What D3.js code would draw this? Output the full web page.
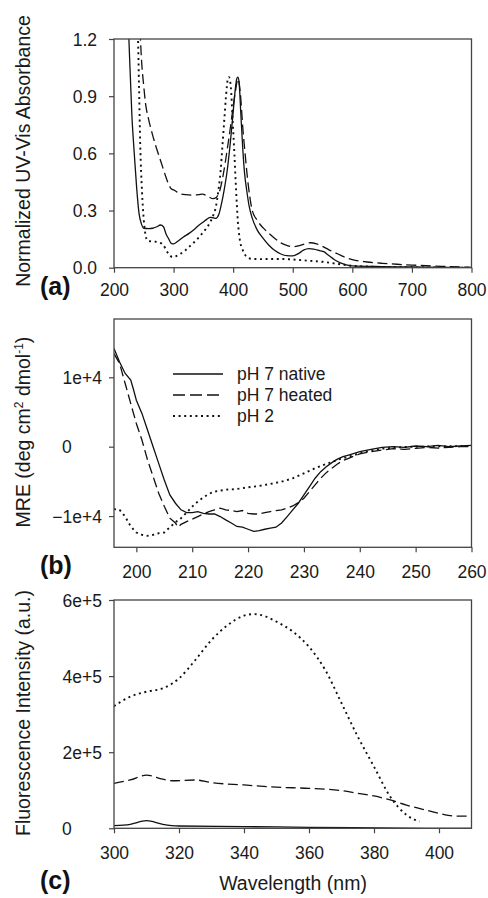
<!DOCTYPE html>
<html>
<head>
<meta charset="utf-8">
<script src="https://cdn.jsdelivr.net/npm/d3@7"></script>
<style>
  body { margin: 0; background: #fff; }
  svg { display: block; font-family: "Liberation Sans", Arial, sans-serif; }
  .tick text { fill: #1a1a1a; }
</style>
</head>
<body>
<svg id="fig" width="488" height="898"></svg>
<script>
// (a) UV-Vis absorbance, [wavelength nm, normalized absorbance]
const uvNative = [[220,1.6],[225,1.2],[230,0.8],[234,0.6],[238,0.42],[242,0.285],[246,0.23],[250,0.207],[258,0.205],[265,0.207],[272,0.215],[278,0.224],[283,0.215],[287,0.18],[292,0.15],[296,0.128],[300,0.125],[306,0.136],[316,0.16],[326,0.18],[336,0.205],[343,0.224],[350,0.24],[356,0.255],[362,0.264],[367,0.262],[371,0.259],[376,0.28],[380,0.33],[385,0.41],[390,0.51],[395,0.65],[399,0.78],[403,0.92],[406,0.99],[408,1.0],[410,0.97],[413,0.8],[416,0.63],[419,0.5],[423,0.4],[427,0.32],[432,0.26],[440,0.2],[450,0.155],[460,0.118],[470,0.09],[480,0.072],[490,0.063],[500,0.062],[510,0.075],[518,0.092],[527,0.1],[535,0.098],[545,0.09],[552,0.084],[560,0.065],[570,0.042],[580,0.025],[590,0.015],[600,0.01],[650,0.006],[700,0.004],[750,0.002],[800,0.0]]
const uvHeated = [[238,1.7],[243,1.3],[246,1.1],[250,0.95],[253,0.86],[258,0.78],[264,0.705],[270,0.64],[276,0.582],[282,0.525],[287,0.477],[292,0.435],[296,0.414],[302,0.405],[309,0.39],[320,0.383],[332,0.381],[342,0.383],[349,0.386],[355,0.378],[360,0.37],[366,0.362],[372,0.37],[378,0.41],[384,0.5],[390,0.62],[396,0.75],[400,0.845],[404,0.93],[408,0.99],[410,0.97],[413,0.88],[416,0.74],[420,0.6],[424,0.47],[428,0.37],[432,0.3],[440,0.25],[450,0.21],[460,0.18],[470,0.153],[480,0.13],[490,0.117],[500,0.11],[510,0.115],[520,0.124],[530,0.131],[540,0.125],[550,0.112],[560,0.095],[570,0.08],[580,0.066],[590,0.052],[600,0.042],[625,0.03],[650,0.023],[675,0.018],[700,0.014],[750,0.007],[800,0.002]]
const uvPh2 = [[236,1.6],[240,1.25],[242,0.95],[244,0.65],[247,0.4],[250,0.25],[253,0.17],[256,0.144],[262,0.138],[270,0.136],[278,0.13],[283,0.118],[288,0.09],[293,0.068],[298,0.056],[304,0.06],[312,0.074],[320,0.092],[326,0.109],[335,0.135],[343,0.161],[352,0.195],[360,0.231],[366,0.27],[371,0.32],[375,0.4],[379,0.51],[382,0.64],[385,0.77],[388,0.9],[391,0.99],[393,1.0],[396,0.95],[399,0.78],[402,0.6],[405,0.4],[408,0.24],[411,0.15],[416,0.093],[422,0.06],[430,0.047],[445,0.045],[460,0.046],[480,0.046],[500,0.043],[525,0.037],[550,0.031],[575,0.02],[600,0.01],[625,0.006],[650,0.004],[700,0.002],[800,0.0]]
const uvXTicks = [200, 300, 400, 500, 600, 700, 800]
const uvYTicks = [0, 0.3, 0.6, 0.9, 1.2]

// (b) CD spectra, [wavelength nm, MRE]
const cdNative = [[196,14150],[197,12200],[198,10550],[199,9600],[199.5,8200],[200,6700],[201,4800],[202,2400],[203,0],[204,-2400],[205,-4800],[206,-6950],[207,-8150],[208,-9100],[209,-9500],[210,-9500],[211,-9350],[212,-9600],[213,-9700],[214,-9700],[215,-10070],[216,-10550],[217,-11000],[218,-11500],[219,-11600],[220,-11900],[221,-12200],[222,-12100],[223,-11900],[224,-11750],[225,-11600],[226,-11000],[227,-10070],[228,-9100],[229,-8150],[230,-6950],[231,-5750],[232,-4550],[233,-3600],[234,-2900],[235,-2300],[236,-1800],[237,-1440],[238,-1200],[239,-960],[240,-720],[242,-400],[244,-100],[246,0],[248,-100],[250,100],[252,0],[254,200],[256,0],[258,100],[260,200]]
const cdHeated = [[196,13400],[197,12000],[198,9100],[199,6200],[200,3350],[201,960],[202,-1900],[203,-4300],[204,-6700],[205,-8600],[206,-10300],[207,-11000],[207.5,-11600],[208,-11200],[209,-10800],[210,-10450],[211,-10070],[212,-9700],[213,-9350],[214,-9100],[215,-8870],[216,-9100],[217,-9200],[218,-9350],[219,-9200],[220,-9600],[221,-9700],[222,-9700],[223,-9500],[224,-9350],[225,-9200],[226,-9100],[227,-8870],[228,-8540],[229,-8060],[230,-7430],[231,-6470],[232,-5500],[233,-4550],[234,-3740],[235,-3100],[236,-2500],[237,-2000],[238,-1680],[239,-1340],[240,-1050],[242,-720],[244,-480],[246,-290],[248,-380],[250,-240],[252,-100],[254,-200],[256,-100],[258,0],[260,0]]
const cdPh2 = [[196,-9000],[197,-9100],[198,-10070],[199,-11500],[200,-12370],[201,-12700],[202,-12850],[203,-12700],[204,-12470],[205,-12370],[206,-11600],[207,-10900],[208,-10300],[209,-9500],[210,-8630],[211,-7900],[212,-7300],[213,-6800],[214,-6470],[215,-6330],[216,-6200],[218,-6100],[220,-5850],[222,-5660],[224,-5370],[226,-5040],[228,-4560],[230,-3840],[232,-3100],[234,-2500],[236,-1900],[238,-1440],[240,-960],[242,-580],[244,-290],[246,-140],[248,-50],[250,0],[255,50],[260,100]]
const cdXTicks = [200, 210, 220, 230, 240, 250, 260]
const cdYTicks = [-10000, 0, 10000]
const legendLabels = ['pH 7 native', 'pH 7 heated', 'pH 2']

// (c) fluorescence, [wavelength nm, intensity]
const flNative = [[300,7000],[305,10500],[310,20000],[315,10500],[320,6000],[340,4400],[360,2600],[380,1000],[400,0],[410,0]]
const flHeated = [[300,118000],[305,127000],[310,140000],[315,129000],[318,125000],[325,127000],[330,120000],[340,114000],[350,108000],[360,105000],[370,99000],[375,92000],[380,85000],[385,74500],[390,61000],[395,50000],[400,39000],[405,32000],[410,32000]]
const flPh2 = [[300,321000],[305,346000],[310,359000],[315,368000],[318,381000],[320,394000],[325,442000],[330,495000],[335,534000],[340,559000],[343,563000],[345,561000],[350,543000],[355,517000],[360,477000],[365,416000],[370,329000],[375,241000],[380,162000],[385,83000],[390,35000],[394,17500]]
const flXTicks = [300, 320, 340, 360, 380, 400]
const flYTicks = [0, 200000, 400000, 600000]

const svg = d3.select('#fig')
const left = 114, right = 471.5
const styles = {
    solid: { dash: null, width: 1.3 },
    dashed: { dash: '10,4.5', width: 1.3 },
    dotted: { dash: '2,3.6', width: 1.9 }
}

function sciFormat(d) {
    return d === 0 ? '0' : d3.format('.0e')(d)
}

function drawPanel(opt) {
    const x = d3.scaleLinear().domain(opt.xDomain).range([left, right])
    const y = d3.scaleLinear().domain(opt.yDomain).range([opt.bottom, opt.top])
    const g = svg.append('g')

    g.append('clipPath').attr('id', 'clip-' + opt.id)
        .append('rect')
        .attr('x', left).attr('y', opt.top)
        .attr('width', right - left).attr('height', opt.bottom - opt.top)

    const line = d3.line()
        .x(d => x(d[0]))
        .y(d => y(d[1]))
        .curve(opt.curve)

    opt.series.forEach(s => {
        g.append('path')
            .datum(s.data)
            .attr('clip-path', 'url(#clip-' + opt.id + ')')
            .attr('d', line)
            .attr('fill', 'none')
            .attr('stroke', '#111')
            .attr('stroke-width', styles[s.style].width)
            .attr('stroke-dasharray', styles[s.style].dash)
    })

    // frame
    g.append('rect')
        .attr('x', left).attr('y', opt.top)
        .attr('width', right - left).attr('height', opt.bottom - opt.top)
        .attr('fill', 'none')
        .attr('stroke', '#444')
        .attr('stroke-width', 1.3)

    // x axis
    const xa = g.append('g')
        .attr('transform', 'translate(0,' + opt.bottom + ')')
        .call(d3.axisBottom(x).tickValues(opt.xTicks).tickSize(5).tickFormat(d3.format('d')))
    xa.select('.domain').remove()
    xa.selectAll('line').attr('stroke', '#444').attr('stroke-width', 1.2)
    xa.selectAll('text')
        .attr('y', opt.xLabelOffset)
        .attr('dy', '0.35em')
        .style('font-size', '17.5px')

    // y axis
    const ya = g.append('g')
        .attr('transform', 'translate(' + left + ',0)')
        .call(d3.axisLeft(y).tickValues(opt.yTicks).tickSize(5).tickFormat(opt.yFormat))
    ya.select('.domain').remove()
    ya.selectAll('line').attr('stroke', '#444').attr('stroke-width', 1.2)
    ya.selectAll('text')
        .attr('dy', '0.35em')
        .style('font-size', '17.5px')
    if (opt.zeroLeft) {
        ya.selectAll('text')
            .attr('text-anchor', d => d === 0 ? 'start' : 'end')
            .attr('x', d => d === 0 ? 62 - left : 102 - left)
    } else {
        ya.selectAll('text').attr('x', 97 - left)
    }

    // panel letter
    svg.append('text')
        .attr('x', 40).attr('y', opt.letterY)
        .attr('dy', '0.35em')
        .style('font-size', '25px')
        .style('font-weight', 'bold')
        .attr('fill', '#111')
        .text(opt.letter)

    // y title
    const t = svg.append('text')
        .attr('transform', 'translate(23,' + opt.titleY + ') rotate(-90)')
        .attr('text-anchor', 'middle')
        .attr('dy', '0.35em')
        .style('font-size', '19.5px')
        .attr('fill', '#1a1a1a')
    opt.title(t)
    return { x, y }
}

drawPanel({
    id: 'a', top: 39, bottom: 267.7,
    xDomain: [200, 800], yDomain: [0, 1.2],
    xTicks: uvXTicks, yTicks: uvYTicks, yFormat: d3.format('.1f'),
    xLabelOffset: 22, curve: d3.curveMonotoneX,
    series: [
        { data: uvNative, style: 'solid' },
        { data: uvHeated, style: 'dashed' },
        { data: uvPh2, style: 'dotted' }
    ],
    letter: '(a)', letterY: 286, titleY: 151,
    title: t => t.text('Normalized UV-Vis Absorbance')
})

drawPanel({
    id: 'b', top: 319, bottom: 547.3,
    xDomain: [196, 260], yDomain: [-14500, 18400],
    xTicks: cdXTicks, yTicks: cdYTicks, yFormat: sciFormat, zeroLeft: true,
    xLabelOffset: 24.5, curve: d3.curveLinear,
    series: [
        { data: cdNative, style: 'solid' },
        { data: cdHeated, style: 'dashed' },
        { data: cdPh2, style: 'dotted' }
    ],
    letter: '(b)', letterY: 565, titleY: 432,
    title: t => {
        t.append('tspan').text('MRE (deg cm')
        t.append('tspan').attr('dy', -7).style('font-size', '12px').text('2')
        t.append('tspan').attr('dy', 7).text(' dmol')
        t.append('tspan').attr('dy', -7).style('font-size', '12px').text('-1')
        t.append('tspan').attr('dy', 7).text(')')
    }
})

drawPanel({
    id: 'c', top: 600, bottom: 828.3,
    xDomain: [300, 410], yDomain: [0, 600000],
    xTicks: flXTicks, yTicks: flYTicks, yFormat: sciFormat, zeroLeft: true,
    xLabelOffset: 25, curve: d3.curveMonotoneX,
    series: [
        { data: flNative, style: 'solid' },
        { data: flHeated, style: 'dashed' },
        { data: flPh2, style: 'dotted' }
    ],
    letter: '(c)', letterY: 880, titleY: 713,
    title: t => t.text('Fluorescence Intensity (a.u.)')
})

// legend in panel (b)
const legendStyles = ['solid', 'dashed', 'dotted']
const legendRows = d3.scalePoint().domain(legendLabels).range([374, 416])
const legend = svg.append('g')
legendLabels.forEach((label, i) => {
    const ly = legendRows(label)
    legend.append('line')
        .attr('x1', 173).attr('x2', 223)
        .attr('y1', ly).attr('y2', ly)
        .attr('stroke', '#111')
        .attr('stroke-width', styles[legendStyles[i]].width)
        .attr('stroke-dasharray', i === 1 ? '12,5' : styles[legendStyles[i]].dash)
    legend.append('text')
        .attr('x', 237).attr('y', ly)
        .attr('dy', '0.35em')
        .style('font-size', '17.5px')
        .attr('fill', '#1a1a1a')
        .text(label)
})

// shared x title
svg.append('text')
    .attr('x', 293).attr('y', 883)
    .attr('dy', '0.35em')
    .attr('text-anchor', 'middle')
    .style('font-size', '19.5px')
    .attr('fill', '#1a1a1a')
    .text('Wavelength (nm)')
</script>
</body>
</html>
